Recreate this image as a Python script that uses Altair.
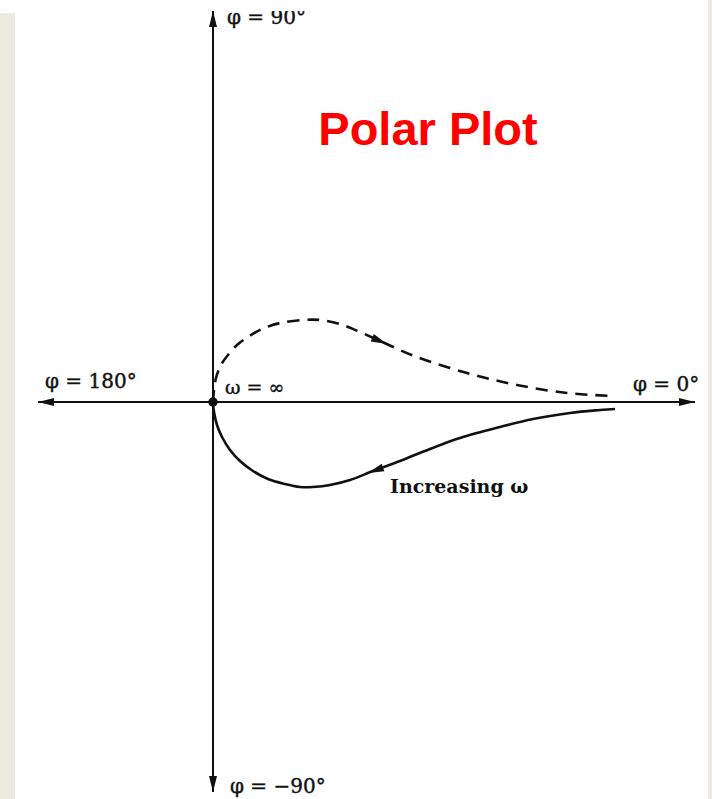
import altair as alt
import pandas as pd

# Frequency locus G(jw) in the complex plane (real, imaginary parts)
solid_re = [0.00, 0.01, 0.04, 0.09, 0.17, 0.27, 0.40, 0.55, 0.72, 0.87, 1.00,
            1.17, 1.37, 1.60, 1.87, 2.17, 2.47, 2.87, 3.20, 3.57, 3.87, 4.02]
solid_im = [0.00, -0.10, -0.23, -0.35, -0.48, -0.59, -0.69, -0.77, -0.82, -0.85, -0.85,
            -0.83, -0.78, -0.69, -0.59, -0.47, -0.36, -0.25, -0.17, -0.11, -0.08, -0.07]

dashed_re = [0.00, 0.01, 0.03, 0.08, 0.15, 0.24, 0.35, 0.49, 0.67, 0.90, 1.07,
             1.27, 1.47, 1.67, 2.04, 2.54, 3.04, 3.54, 4.00]
dashed_im = [0.00, 0.12, 0.24, 0.37, 0.47, 0.57, 0.65, 0.73, 0.79, 0.82, 0.82,
             0.78, 0.70, 0.61, 0.45, 0.29, 0.17, 0.09, 0.06]

# Axis extents (real and imaginary)
axis_re = [-1.75, 4.82]
axis_im = [-3.90, 3.91]

# Direction arrows on the axes and on both branches of the locus
arrow_re = [4.82, -1.75, 0.00, 0.00, 1.74, 1.55]
arrow_im = [0.00, 0.00, 3.91, -3.90, 0.58, -0.71]
arrow_angle = [0, 180, 270, 90, 23, 160]

# Phase labels on the axes
phase_text = ["φ = 90°", "φ = 180°", "φ = 0°", "φ = −90°"]
phase_re = [0.14, -1.68, 4.20, 0.17]
phase_im = [3.78, 0.14, 0.11, -3.91]

X_DOMAIN = [-2.13, 4.99]
Y_DOMAIN = [-3.97, 4.02]


def xq(field):
    return alt.X(f"{field}:Q", scale=alt.Scale(domain=X_DOMAIN, nice=False, zero=False), axis=None)


def yq(field):
    return alt.Y(f"{field}:Q", scale=alt.Scale(domain=Y_DOMAIN, nice=False, zero=False), axis=None)


solid_df = pd.DataFrame({"re": solid_re, "im": solid_im, "k": range(len(solid_re))})
dashed_df = pd.DataFrame({"re": dashed_re, "im": dashed_im, "k": range(len(dashed_re))})
arrows_df = pd.DataFrame({"re": arrow_re, "im": arrow_im, "angle": arrow_angle})
phase_df = pd.DataFrame({"text": phase_text, "re": phase_re, "im": phase_im})
origin_df = pd.DataFrame({"re": [0.0], "im": [0.0]})
h_axis_df = pd.DataFrame({"re": [axis_re[0]], "re2": [axis_re[1]], "im": [0.0]})
v_axis_df = pd.DataFrame({"im": [axis_im[0]], "im2": [axis_im[1]], "re": [0.0]})
blank = alt.Data(values=[{}])

INK = "#111111"
SERIF = "DejaVu Serif"

# Page frame strips
left_strip = alt.Chart(blank).mark_rect(color="#ECEAE0").encode(
    x=alt.value(0), x2=alt.value(15), y=alt.value(13), y2=alt.value(799))
right_strip = alt.Chart(blank).mark_rect(color="#ECEAE0").encode(
    x=alt.value(708), x2=alt.value(712), y=alt.value(0), y2=alt.value(799))

h_axis = alt.Chart(h_axis_df).mark_rule(color=INK, strokeWidth=2).encode(
    x=xq("re"), x2="re2", y=yq("im"))
v_axis = alt.Chart(v_axis_df).mark_rule(color=INK, strokeWidth=2).encode(
    y=yq("im"), y2="im2", x=xq("re"))

solid = alt.Chart(solid_df).mark_line(color=INK, strokeWidth=2.6, interpolate="cardinal").encode(
    x=xq("re"), y=yq("im"), order="k:Q")
dashed = alt.Chart(dashed_df).mark_line(
    color=INK, strokeWidth=2.6, strokeDash=[12, 8], interpolate="cardinal").encode(
    x=xq("re"), y=yq("im"), order="k:Q")

arrows = alt.Chart(arrows_df).mark_point(
    shape="M0,0L-2,-0.5L-2,0.5Z", filled=True, color=INK, opacity=1, size=256, strokeWidth=0).encode(
    x=xq("re"), y=yq("im"), angle=alt.Angle("angle:Q", scale=None))

origin = alt.Chart(origin_df).mark_point(
    shape="circle", filled=True, color=INK, opacity=1, size=90).encode(x=xq("re"), y=yq("im"))

phase_labels = alt.Chart(phase_df).mark_text(
    align="left", baseline="alphabetic", font=SERIF, fontSize=20, color=INK,
    stroke=INK, strokeWidth=0.4).encode(
    x=xq("re"), y=yq("im"), text="text:N")

omega_inf = alt.Chart(pd.DataFrame({"re": [0.12], "im": [0.08], "text": ["ω = ∞"]})).mark_text(
    align="left", baseline="alphabetic", font=SERIF, fontSize=19, color=INK,
    stroke=INK, strokeWidth=0.4).encode(
    x=xq("re"), y=yq("im"), text="text:N")

increasing = alt.Chart(pd.DataFrame({"re": [1.77], "im": [-0.91], "text": ["Increasing ω"]})).mark_text(
    align="left", baseline="alphabetic", font=SERIF, fontSize=19, fontWeight="bold",
    color=INK).encode(x=xq("re"), y=yq("im"), text="text:N")

# Top edge of the page trims the upper label
top_trim = alt.Chart(blank).mark_rect(color="white").encode(
    x=alt.value(15), x2=alt.value(708), y=alt.value(0), y2=alt.value(11))

title = alt.Chart(blank).mark_text(
    text="Polar Plot", align="center", baseline="alphabetic", font="Liberation Sans",
    fontWeight="bold", fontSize=47, color="#FF0000").encode(x=alt.value(428), y=alt.value(145))

chart = alt.layer(
    left_strip, right_strip, h_axis, v_axis, solid, dashed, arrows, origin,
    phase_labels, omega_inf, increasing, top_trim, title
).properties(
    width=712, height=799, padding=0, autosize=alt.AutoSizeParams(type="none"),
    background="white"
).configure_view(stroke=None)

chart.save("out.html", embed_options={"renderer": "svg", "actions": False})
